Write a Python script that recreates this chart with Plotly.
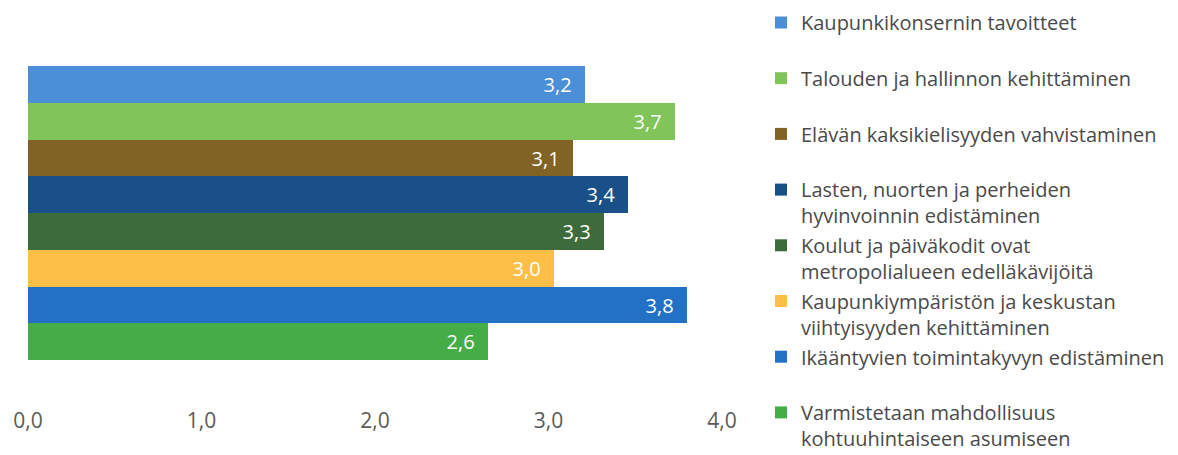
import plotly.graph_objects as go

categories = [
    "Kaupunkikonsernin tavoitteet",
    "Talouden ja hallinnon kehittäminen",
    "Elävän kaksikielisyyden vahvistaminen",
    "Lasten, nuorten ja perheiden<br>hyvinvoinnin edistäminen",
    "Koulut ja päiväkodit ovat<br>metropolialueen edelläkävijöitä",
    "Kaupunkiympäristön ja keskustan<br>viihtyisyyden kehittäminen",
    "Ikääntyvien toimintakyvyn edistäminen",
    "Varmistetaan mahdollisuus<br>kohtuuhintaiseen asumiseen",
]
values = [3.21, 3.73, 3.14, 3.46, 3.32, 3.03, 3.80, 2.65]
value_labels = ["3,2", "3,7", "3,1", "3,4", "3,3", "3,0", "3,8", "2,6"]
colors = ["#4b8fd9", "#80c45a", "#826326", "#1a5088", "#3e6b3b",
          "#fdbf47", "#2371c5", "#45ad47"]
x_ticks = [0, 1, 2, 3, 4]

FONT = "Open Sans"
W, H = 1170, 447
MT, MB = 58, 95
PLOT_H = H - MT - MB
fig = go.Figure()
for i, (cat, val, lab, col) in enumerate(zip(categories, values, value_labels, colors)):
    legend_name = cat if "<br>" in cat else cat + "<br> "
    fig.add_trace(go.Bar(
        y=[cat], x=[val], orientation="h", name=legend_name,
        marker=dict(color=col, line=dict(width=0)),
        text=[lab], texttemplate="%{text}\u00a0\u00a0",
        textposition="inside", insidetextanchor="end",
        textfont=dict(family=FONT, size=20, color="white"),
        width=1, legendgroup=f"g{i}", hoverinfo="skip",
    ))

legend_cfg = dict(
    xref="container", yref="paper",
    x=753 / W, y=1 + (MT + 5) / PLOT_H, xanchor="left", yanchor="top",
    traceorder="grouped", tracegroupgap=0.7, valign="top",
    font=dict(family=FONT, size=20, color="#4a4a4a"),
    bgcolor="rgba(0,0,0,0)",
)

fig.update_layout(
    width=W, height=H,
    margin=dict(l=20, r=456, t=MT, b=MB, autoexpand=False),
    paper_bgcolor="white", plot_bgcolor="white",
    barmode="overlay", bargap=0,
    separators=",.",
    font=dict(family=FONT, color="#595959"),
    showlegend=True,
    legend=legend_cfg,
    xaxis=dict(
        range=[0, 4], tickvals=x_ticks, tickformat=".1f",
        showgrid=False, zeroline=False, showline=False, ticks="",
        tickfont=dict(family=FONT, size=21, color="#5a5a5a"),
        ticklabelstandoff=46,
    ),
    yaxis=dict(
        categoryorder="array", categoryarray=categories,
        autorange="reversed", showticklabels=False,
        showgrid=False, zeroline=False, showline=False, ticks="",
    ),
)
try:
    fig.update_layout(legend_maxheight=H)
except Exception:
    pass

fig.write_html("out.html")
